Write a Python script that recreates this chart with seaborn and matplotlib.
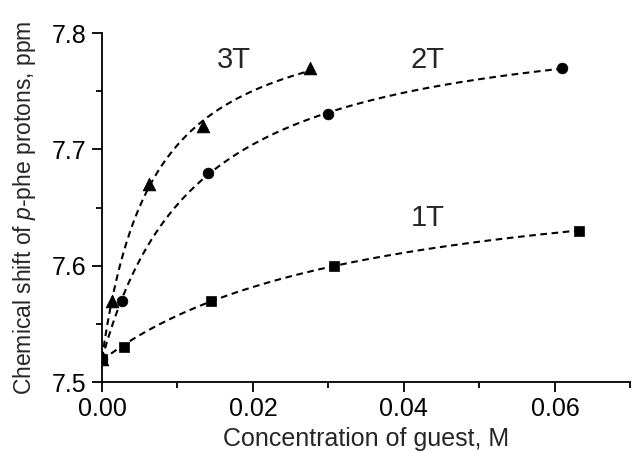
import numpy as np
import pandas as pd
import matplotlib
matplotlib.use("Agg")
import matplotlib.pyplot as plt
import seaborn as sns
from matplotlib.ticker import MultipleLocator, FormatStrFormatter

# Titration data: concentration of guest (M) vs chemical shift (ppm)
conc_1T = [0.0, 0.0029, 0.0145, 0.0307, 0.0632]
shift_1T = [7.52, 7.53, 7.57, 7.60, 7.63]
conc_2T = [0.0, 0.0026, 0.0141, 0.0299, 0.0610]
shift_2T = [7.52, 7.57, 7.68, 7.73, 7.77]
conc_3T = [0.0, 0.0013, 0.0062, 0.0134, 0.0276]
shift_3T = [7.52, 7.57, 7.67, 7.72, 7.77]

series_names = ["1T", "2T", "3T"]
x_ticks = [0.00, 0.02, 0.04, 0.06]
y_ticks = [7.5, 7.6, 7.7, 7.8]

sns.set_theme(style="ticks")
plt.rcParams["font.family"] = ["Liberation Sans", "DejaVu Sans"]
plt.rcParams["mathtext.fontset"] = "custom"
plt.rcParams["mathtext.rm"] = "Liberation Sans"
plt.rcParams["mathtext.it"] = "Liberation Sans:italic"

rows = []
for name, xs, ys in zip(series_names, [conc_1T, conc_2T, conc_3T],
                        [shift_1T, shift_2T, shift_3T]):
    for x, y in zip(xs, ys):
        rows.append({"series": name, "conc": x, "shift": y})
df = pd.DataFrame(rows)


def fit_isotherm(xs, ys):
    """Least-squares 1:1 binding isotherm: d = d0 + dmax*Kx/(1+Kx)."""
    xs = np.asarray(xs)
    ys = np.asarray(ys)
    best = None
    for K in np.logspace(0, 4, 2000):
        f = K * xs / (1 + K * xs)
        A = np.column_stack([np.ones_like(f), f])
        coef, *_ = np.linalg.lstsq(A, ys, rcond=None)
        err = np.sum((A @ coef - ys) ** 2)
        if best is None or err < best[0]:
            best = (err, K, coef)
    _, K, (d0, dmax) = best
    return lambda x: d0 + dmax * K * x / (1 + K * x)


fit_rows = []
for name, xs, ys in zip(series_names, [conc_1T, conc_2T, conc_3T],
                        [shift_1T, shift_2T, shift_3T]):
    model = fit_isotherm(xs, ys)
    grid = np.linspace(0, max(xs), 300)
    for gx in grid:
        fit_rows.append({"series": name, "conc": gx, "shift": model(gx)})
fit_df = pd.DataFrame(fit_rows)

fig = plt.figure(figsize=(6.32, 4.53), dpi=100)
ax = fig.add_axes([0.1614, 0.1567, 0.836, 0.7703])

sns.lineplot(data=fit_df, x="conc", y="shift", units="series", estimator=None,
             color="black", linewidth=1.5, dashes=False, ax=ax, legend=False,
             sort=False)
for line in ax.get_lines():
    line.set_dashes([3.2, 2.2])

markers = {"1T": "s", "2T": "o", "3T": "^"}
sizes = {"1T": 45, "2T": 60, "3T": 85}
for name in series_names:
    sub = df[df["series"] == name]
    sns.scatterplot(data=sub, x="conc", y="shift", marker=markers[name],
                    s=sizes[name], color="black", edgecolor="black",
                    linewidth=0.5, ax=ax, legend=False, zorder=5)

ax.set_xlim(0, 0.07)
ax.set_ylim(7.5, 7.8)
ax.set_xticks(x_ticks)
ax.set_yticks(y_ticks)
ax.xaxis.set_minor_locator(MultipleLocator(0.01))
ax.yaxis.set_minor_locator(MultipleLocator(0.05))
ax.xaxis.set_major_formatter(FormatStrFormatter("%.2f"))
ax.yaxis.set_major_formatter(FormatStrFormatter("%.1f"))

for side in ["top", "right"]:
    ax.spines[side].set_visible(False)
for side in ["left", "bottom"]:
    ax.spines[side].set_linewidth(1.3)
    ax.spines[side].set_color("black")
ax.tick_params(which="major", direction="out", length=7, width=1.3,
               labelsize=18, colors="black", pad=4)
ax.tick_params(which="minor", direction="out", length=4, width=1.3,
               colors="black")

ax.set_xlabel("Concentration of guest, M", fontsize=18, labelpad=4)
ax.set_ylabel("Chemical shift of $\\mathit{p}$-phe protons, ppm",
              fontsize=16.5, labelpad=10)

ax.text(0.0175, 7.777, "3T", fontsize=21, ha="center", va="center")
ax.text(0.0431, 7.777, "2T", fontsize=21, ha="center", va="center")
ax.text(0.0431, 7.641, "1T", fontsize=21, ha="center", va="center")

fig.savefig("out.png", dpi=100, facecolor="white")
